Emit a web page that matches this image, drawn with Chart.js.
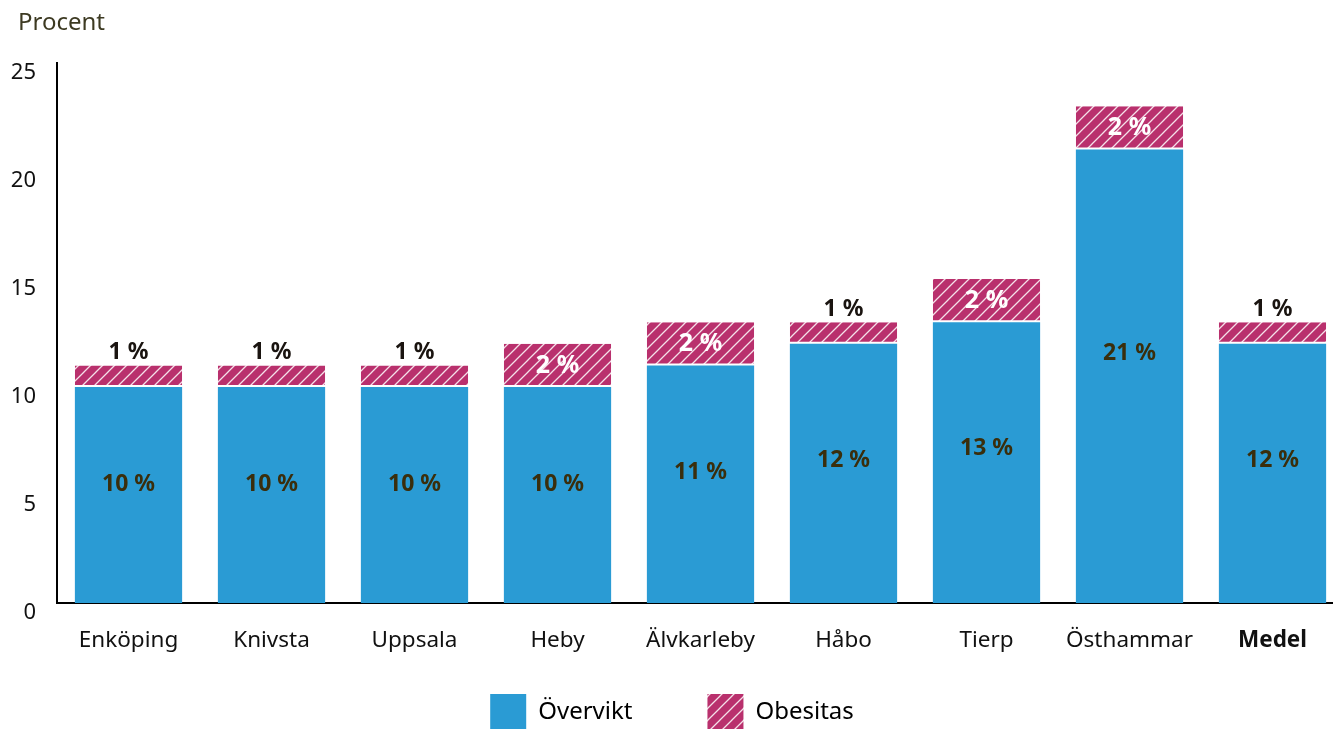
<!DOCTYPE html>
<html>
<head>
<meta charset="utf-8">
<script src="https://cdn.jsdelivr.net/npm/chart.js@4/dist/chart.umd.min.js"></script>
<style>
html,body{margin:0;padding:0;overflow:hidden;background:#fff;}
#wrap{width:1346px;height:740px;position:relative;overflow:hidden;}
</style>
</head>
<body>
<div id="wrap"><canvas id="c" width="1346" height="789"></canvas></div>
<script>
const categories = ['Enköping','Knivsta','Uppsala','Heby','Älvkarleby','Håbo','Tierp','Östhammar','Medel'];
const overvikt = [10, 10, 10, 10, 11, 12, 13, 21, 12];
const obesitas = [1, 1, 1, 2, 2, 1, 2, 2, 1];
const yTicks = [0, 5, 10, 15, 20, 25];
const seriesNames = ['Övervikt', 'Obesitas'];
const axisTitle = 'Procent';

const FONT = '"Source Sans Pro", "Noto Sans", sans-serif';
const BLUE = '#2a9bd4';
const MAGENTA = '#b9306d';

function makeHatch() {
  const s = 12;
  const p = document.createElement('canvas');
  p.width = s; p.height = s;
  const g = p.getContext('2d');
  g.fillStyle = MAGENTA;
  g.fillRect(0, 0, s, s);
  g.strokeStyle = 'rgba(255,255,255,0.85)';
  g.lineWidth = 1.3;
  g.beginPath();
  g.moveTo(-1, s + 1); g.lineTo(s + 1, -1);
  g.moveTo(-1, 1); g.lineTo(1, -1);
  g.moveTo(s - 1, s + 1); g.lineTo(s + 1, s - 1);
  g.stroke();
  return document.getElementById('c').getContext('2d').createPattern(p, 'repeat');
}
const hatch = makeHatch();

const labelPlugin = {
  id: 'barLabels',
  afterLayout(chart) {
    // lift the legend so its large horizontal item spacing does not push it down
    const lg = chart.legend;
    if (lg) { lg.top -= 49; lg.bottom -= 49; }
  },
  afterDatasetsDraw(chart) {
    const ctx = chart.ctx;
    const y = chart.scales.y;
    const m0 = chart.getDatasetMeta(0);
    const m1 = chart.getDatasetMeta(1);
    ctx.save();
    ctx.textAlign = 'center';
    ctx.textBaseline = 'middle';
    for (let i = 0; i < categories.length; i++) {
      const b0 = m0.data[i], b1 = m1.data[i];
      const v = overvikt[i], o = obesitas[i];
      ctx.font = 'bold 23px ' + FONT;
      ctx.fillStyle = '#3a2e0c';
      ctx.fillText(v + ' %', b0.x, y.getPixelForValue(v * 0.55));
      if (o >= 2) {
        ctx.font = 'bold 25px ' + FONT;
        ctx.fillStyle = '#ffffff';
        ctx.fillText(o + ' %', b1.x, y.getPixelForValue(v + o / 2));
      } else {
        ctx.font = 'bold 23px ' + FONT;
        ctx.fillStyle = '#1a1410';
        ctx.fillText(o + ' %', b1.x, y.getPixelForValue(v + o) - 13);
      }
    }
    ctx.restore();
  },
  afterDraw(chart) {
    const ctx = chart.ctx;
    ctx.save();
    ctx.font = '24px ' + FONT;
    ctx.fillStyle = '#3d3a22';
    ctx.textAlign = 'left';
    ctx.textBaseline = 'middle';
    ctx.fillText(axisTitle, 18, 23);
    ctx.restore();
  }
};

new Chart(document.getElementById('c'), {
  type: 'bar',
  data: {
    labels: categories,
    datasets: [
      { label: seriesNames[0], data: overvikt, backgroundColor: BLUE, borderWidth: 0, categoryPercentage: 1, barPercentage: 0.75 },
      { label: seriesNames[1], data: obesitas, backgroundColor: hatch, borderColor: '#ffffff', borderWidth: { bottom: 2, top: 0, left: 0, right: 0 }, borderSkipped: false, categoryPercentage: 1, barPercentage: 0.75 }
    ]
  },
  options: {
    responsive: false,
    animation: false,
    layout: { padding: { left: 0, right: 2, top: 63, bottom: 0 } },
    scales: {
      x: {
        stacked: true,
        afterFit: (s) => { s.height = 65; },
        grid: { display: false, drawTicks: false },
        border: { display: true, color: '#000', width: 2 },
        ticks: {
          color: '#111',
          padding: 24,
          font: (c) => ({ family: FONT, size: 22.5, weight: categories[c.index] === 'Medel' ? 'bold' : 'normal' })
        }
      },
      y: {
        stacked: true,
        min: 0, max: 25,
        afterBuildTicks: (s) => { s.ticks = yTicks.map(v => ({ value: v })); },
        afterFit: (s) => { s.width = 57; },
        grid: { display: false, drawTicks: false },
        border: { display: true, color: '#000', width: 2 },
        ticks: { color: '#111', padding: 21, labelOffset: 10, font: { family: FONT, size: 22 } }
      }
    },
    plugins: {
      tooltip: { enabled: false },
      title: { display: false },
      legend: {
        display: true,
        position: 'bottom',
        labels: {
          boxWidth: 36, boxHeight: 36, padding: 75,
          color: '#3d3a22',
          font: { family: FONT, size: 24 },
          generateLabels: (chart) => chart.data.datasets.map((d, i) => ({
            text: d.label, fillStyle: i === 0 ? BLUE : hatch, strokeStyle: 'rgba(0,0,0,0)', lineWidth: 0, datasetIndex: i, hidden: false
          }))
        }
      }
    }
  },
  plugins: [labelPlugin]
});
</script>
</body>
</html>
